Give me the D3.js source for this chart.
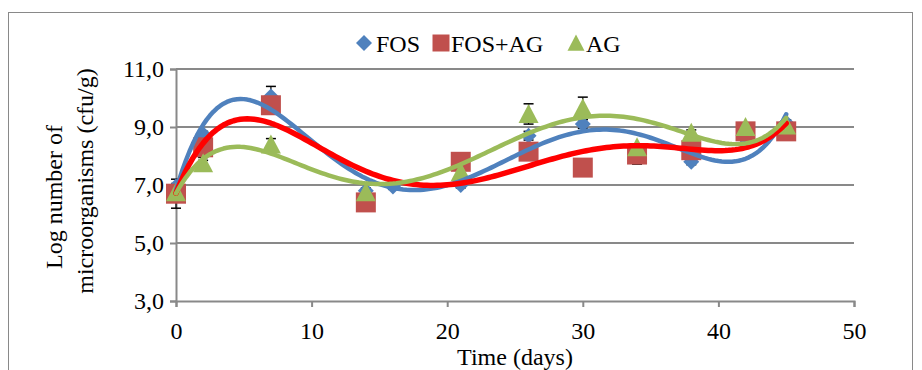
<!DOCTYPE html>
<html><head><meta charset="utf-8">
<script src="https://cdn.jsdelivr.net/npm/d3@7"></script>
<style>html,body{margin:0;padding:0;background:#fff;} svg{display:block;} text{font-family:"Liberation Serif","Times New Roman",serif;fill:#000;}</style>
</head><body>
<svg id="c" width="922" height="370"></svg>
<script>
// ---- data ----
const seriesNames = ["FOS", "FOS+AG", "AG"];
const fosDays   = [0, 2, 7, 14, 16, 21, 26, 30, 34, 38, 42, 45];
const fosVals   = [6.95, 8.75, 10.05, 6.8, 6.95, 7.0, 8.7, 9.1, 8.2, 7.8, 8.6, 9.15];
const fosErr    = [0.1, 0.1, 0.35, 0.1, 0.1, 0.1, 0.15, 0.15, 0.1, 0.1, 0.1, 0.1];
const fosAgDays = [0, 2, 7, 14, 21, 26, 30, 34, 38, 42, 45];
const fosAgVals = [6.7, 8.3, 9.75, 6.4, 7.8, 8.15, 7.6, 8.05, 8.2, 8.85, 8.85];
const fosAgErr  = [0.5, 0.45, 0.15, 0.1, 0.1, 0.1, 0.1, 0.33, 0.1, 0.1, 0.1];
const agDays    = [0, 2, 7, 14, 21, 26, 30, 34, 38, 42, 45];
const agVals    = [6.75, 7.75, 8.4, 6.75, 7.45, 9.45, 9.65, 8.3, 8.8, 9.0, 9.05];
const agErr     = [0.1, 0.2, 0.2, 0.1, 0.1, 0.35, 0.38, 0.1, 0.1, 0.1, 0.1];
const xTicks = [0, 10, 20, 30, 40, 50];
const yTicks = [3, 5, 7, 9, 11];
const trendDegree = 5;

const series = [
  {name: seriesNames[0], days: fosDays, vals: fosVals, err: fosErr, marker: "diamond", fill: "#4F81BD", line: "#4F81BD", lw: 4.5},
  {name: seriesNames[1], days: fosAgDays, vals: fosAgVals, err: fosAgErr, marker: "square", fill: "#C0504D", line: "#FF0000", lw: 5.5},
  {name: seriesNames[2], days: agDays, vals: agVals, err: agErr, marker: "triangle", fill: "#9BBB59", line: "#9BBB59", lw: 4.5}
];

// ---- layout ----
const svg = d3.select("#c");
const L = 176, R = 854, T = 69, B = 301;
const x = d3.scaleLinear().domain([0, 50]).range([L, R]);
const y = d3.scaleLinear().domain([3, 11]).range([B, T]);
const grey = "#898989";
const fs = 24;

// outer frame
svg.append("rect").attr("x", 8.5).attr("y", 12.5).attr("width", 904).attr("height", 380)
  .attr("fill", "none").attr("stroke", grey).attr("stroke-width", 1);

// gridlines
svg.append("g").selectAll("line").data(yTicks.filter(d => d > 3)).join("line")
  .attr("x1", L).attr("x2", R).attr("y1", d => y(d)).attr("y2", d => y(d))
  .attr("stroke", grey).attr("stroke-width", 2);

// axes
const fmt = d => d.toFixed(1).replace(".", ",");
const yAxis = svg.append("g").attr("transform", `translate(${L},0)`)
  .call(d3.axisLeft(y).tickValues(yTicks).tickFormat(fmt).tickSize(6).tickPadding(6));
const xAxis = svg.append("g").attr("transform", `translate(0,${B})`)
  .call(d3.axisBottom(x).tickValues(xTicks).tickFormat(d3.format("d")).tickSize(6).tickPadding(15));
[yAxis, xAxis].forEach(g => {
  g.select(".domain").attr("stroke", grey).attr("stroke-width", 2);
  g.selectAll(".tick line").attr("stroke", grey).attr("stroke-width", 2);
  g.selectAll(".tick text").attr("font-family", "Liberation Serif").attr("font-size", fs).attr("fill", "#000");
});

// axis titles
svg.append("text").attr("x", (L + R) / 2).attr("y", 365).attr("text-anchor", "middle")
  .attr("font-size", fs).text("Time (days)");
svg.append("text").attr("transform", `translate(62,197) rotate(-90)`)
  .attr("text-anchor", "middle").attr("font-size", fs).text("Log number of");
svg.append("text").attr("transform", `translate(93,181) rotate(-90)`)
  .attr("text-anchor", "middle").attr("font-size", fs).text("microorganisms (cfu/g)");

// markers
function markerPath(type, cx, cy, s) {
  if (type === "diamond") return `M${cx},${cy - s}L${cx + s},${cy}L${cx},${cy + s}L${cx - s},${cy}Z`;
  if (type === "square") return `M${cx - s},${cy - s}h${2 * s}v${2 * s}h${-2 * s}Z`;
  return `M${cx},${cy - s}L${cx + s},${cy + s * 0.9}L${cx - s},${cy + s * 0.9}Z`;
}
const markerSize = {diamond: 8, square: 10, triangle: 10};

// error bars (behind markers)
const eg = svg.append("g");
series.forEach(s => {
  s.days.forEach((d, i) => {
    const cx = x(d), y1 = y(s.vals[i] - s.err[i]), y2 = y(s.vals[i] + s.err[i]);
    eg.append("line").attr("x1", cx).attr("x2", cx).attr("y1", y1).attr("y2", y2).attr("stroke", "#000").attr("stroke-width", 1.2);
    [y1, y2].forEach(yy => eg.append("line").attr("x1", cx - 5).attr("x2", cx + 5).attr("y1", yy).attr("y2", yy).attr("stroke", "#000").attr("stroke-width", 1.5));
  });
});

const mg = svg.append("g");
series.forEach(s => {
  mg.append("g").selectAll("path").data(s.days.map((d, i) => [d, s.vals[i]])).join("path")
    .attr("d", p => markerPath(s.marker, x(p[0]), y(p[1]), markerSize[s.marker]))
    .attr("fill", s.fill);
});

// polynomial trendlines (least squares, like the spreadsheet trendline)
function polyfit(xs, ys, deg) {
  const n = deg + 1, sc = 45;
  const A = Array.from({length: n}, () => new Array(n + 1).fill(0));
  xs.forEach((xv, k) => {
    const t = xv / sc;
    for (let i = 0; i < n; i++) {
      for (let j = 0; j < n; j++) A[i][j] += Math.pow(t, i + j);
      A[i][n] += ys[k] * Math.pow(t, i);
    }
  });
  for (let c = 0; c < n; c++) {
    let p = c;
    for (let r = c + 1; r < n; r++) if (Math.abs(A[r][c]) > Math.abs(A[p][c])) p = r;
    [A[c], A[p]] = [A[p], A[c]];
    for (let r = 0; r < n; r++) {
      if (r === c) continue;
      const f = A[r][c] / A[c][c];
      for (let k = c; k <= n; k++) A[r][k] -= f * A[c][k];
    }
  }
  const coef = A.map((row, i) => row[n] / row[i]);
  return xv => coef.reduce((acc, c, i) => acc + c * Math.pow(xv / sc, i), 0);
}
const lg = svg.append("g");
series.forEach(s => {
  const f = polyfit(s.days, s.vals, trendDegree);
  const x0 = d3.min(s.days), x1 = d3.max(s.days);
  const pts = d3.range(x0, x1 + 0.001, 0.25).map(d => [d, f(d)]);
  lg.append("path").datum(pts)
    .attr("d", d3.line().x(p => x(p[0])).y(p => y(p[1])).curve(d3.curveLinear))
    .attr("fill", "none").attr("stroke", s.line).attr("stroke-width", s.lw)
    .attr("stroke-linecap", "round").attr("stroke-linejoin", "round");
});

// legend
const legItems = [
  {s: series[0], mx: 364, tx: 376},
  {s: series[1], mx: 441, tx: 451},
  {s: series[2], mx: 576, tx: 586}
];
const leg = svg.append("g");
const ly = 43;
legItems.forEach(it => {
  leg.append("path").attr("d", markerPath(it.s.marker, it.mx, ly, it.s.marker === "diamond" ? 8 : 8.5)).attr("fill", it.s.fill);
  leg.append("text").attr("x", it.tx).attr("y", ly + 9).attr("font-size", fs).text(it.s.name);
});
</script>
</body></html>
